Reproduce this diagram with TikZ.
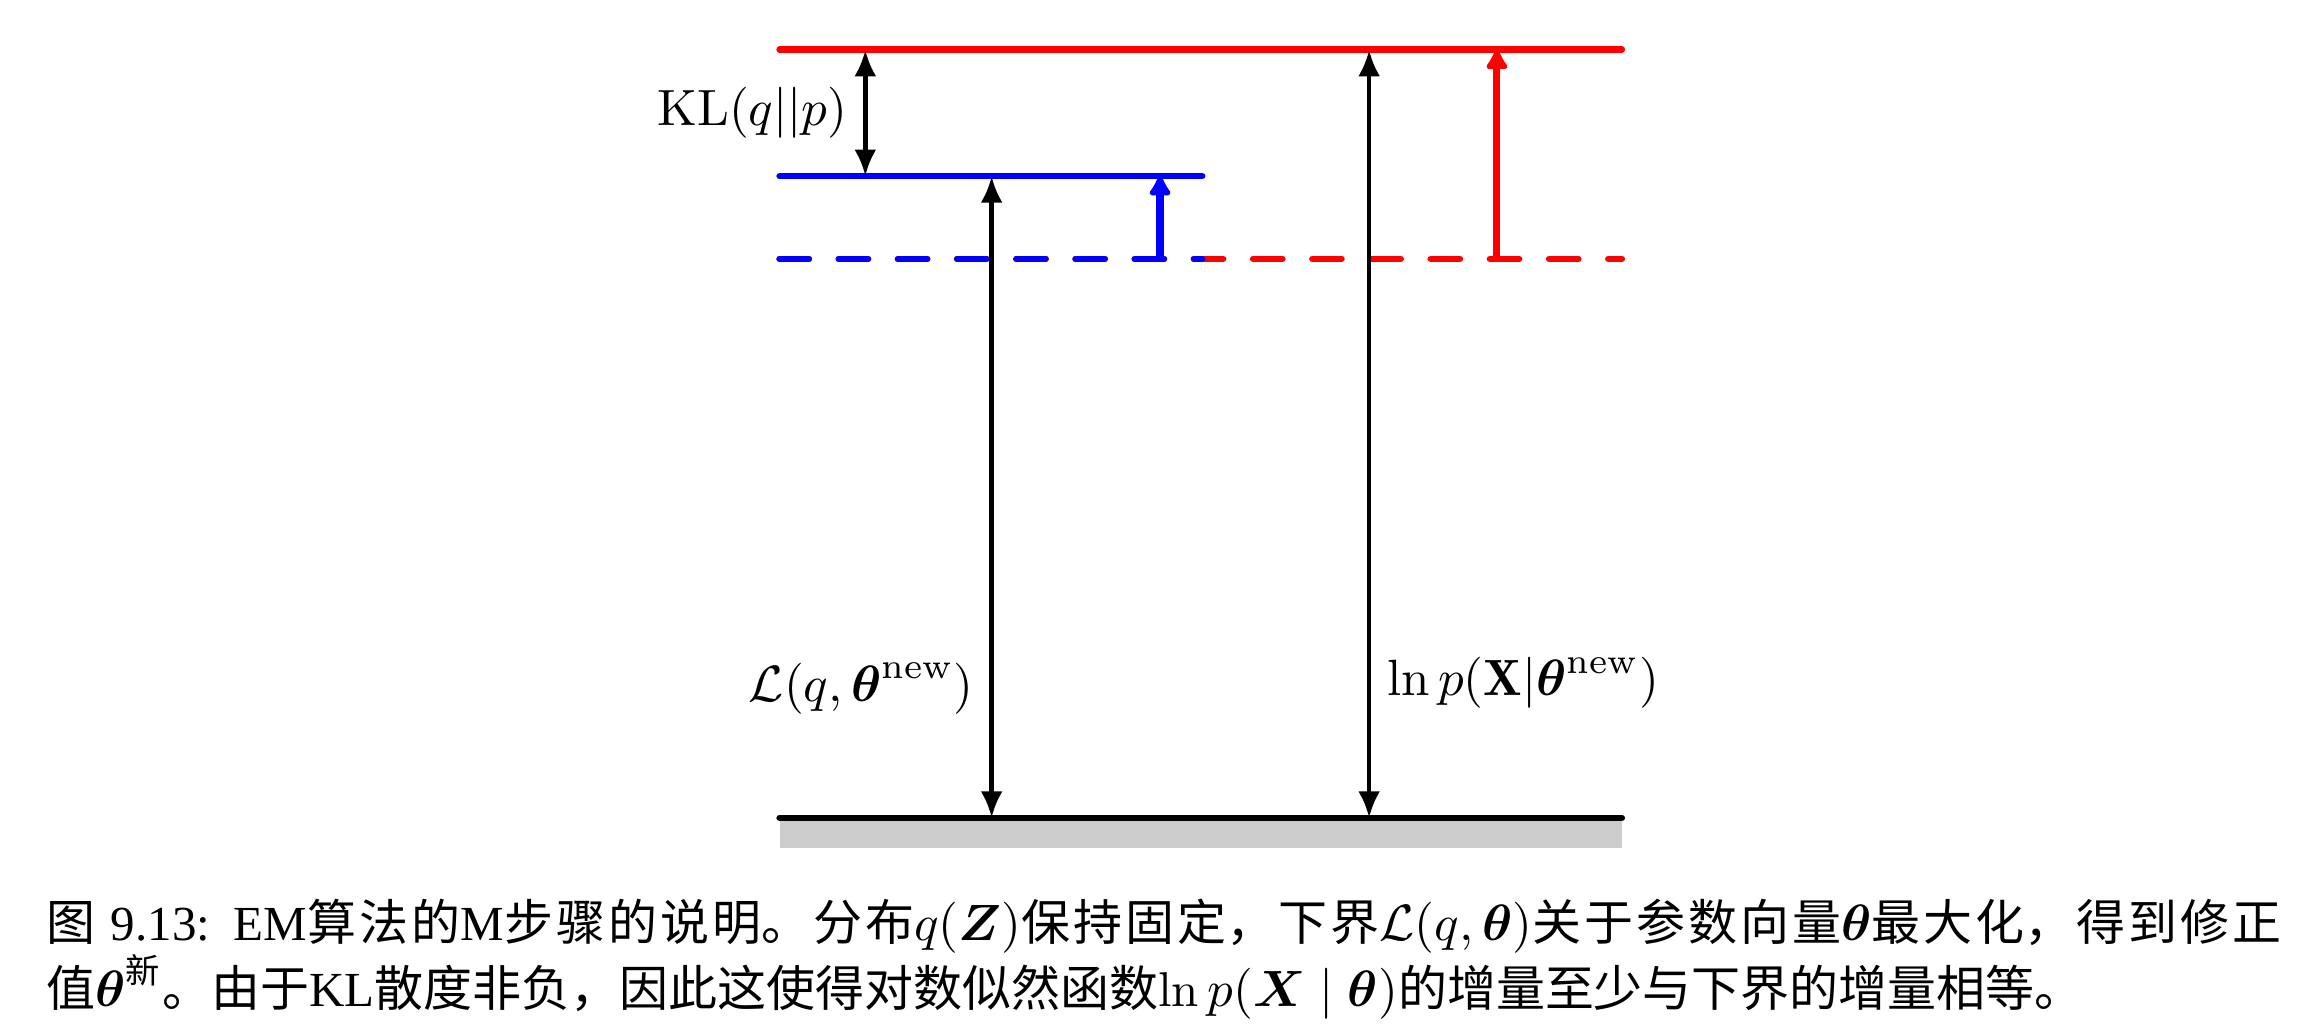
\documentclass[tikz,border=0pt]{standalone}
\usepackage{amsmath,amssymb}
\usepackage{fontspec}
\newfontfamily\zhfont{Noto Sans CJK SC}
\newfontfamily\capfont{Liberation Serif}
\usetikzlibrary{arrows.meta,positioning}
\XeTeXlinebreaklocale "zh"
\XeTeXlinebreakskip=0pt plus 1pt
\newcommand{\zh}[1]{{\zhfont #1}}
\definecolor{lvlred}{RGB}{255,0,0}
\definecolor{lvlblue}{RGB}{0,0,255}
\definecolor{floorgray}{RGB}{204,204,204}
\tikzset{
  lvl/.style={line width=1.3pt,line cap=round},
  dlvl/.style={lvl,dash pattern=on 5.7pt off 5.9pt},
  darr/.style={{Latex[length=5.2pt,width=4.3pt]}-{Latex[length=5.2pt,width=4.3pt]},line width=0.9pt},
  uarr/.style={-{Latex[length=4.6pt,width=5.2pt,round]},line width=1.4pt},
  lbl/.style={font=\normalsize,inner sep=3.3pt},
  capt/.style={text width=15.4cm,align=justify,inner sep=0pt,font=\capfont\fontsize{9.6}{13}\selectfont},
}

\begin{document}
\begin{tikzpicture}
% M step: bound raised at fixed q, gap to ln p reopens
\useasboundingbox (0,0) rectangle (16,7.083);
\coordinate (botL) at (5.37,1.45);
\coordinate (botR) at (11.17,1.45);
\coordinate (oldL) at (5.37,5.30);
\coordinate (oldM) at (8.28,5.30);
\coordinate (oldR) at (11.17,5.30);
\coordinate (lbL)  at (5.37,5.87);
\coordinate (lbR)  at (8.28,5.87);
\coordinate (lpL)  at (5.37,6.74);
\coordinate (lpR)  at (11.17,6.74);
\fill[floorgray] (botL) rectangle (11.17,1.24);
\draw[dlvl,lvlred]  (oldL) -- (oldR);
\draw[dlvl,lvlblue] (oldL) -- (oldM);
\draw[lvl,lvlblue]  (lbL) -- (lbR);
\draw[lvl,lvlred]   (lpL) -- (lpR);
\draw[lvl,black]    (botL) -- (botR);
% arrows
\coordinate (klT) at (5.96,6.74);  \coordinate (klB) at (5.96,5.87);
\coordinate (bdT) at (6.83,5.87);  \coordinate (bdB) at (6.83,1.45);
\coordinate (buB) at (7.99,5.30);  \coordinate (buT) at (7.99,5.87);
\coordinate (lnT) at (9.43,6.74);  \coordinate (lnB) at (9.43,1.45);
\coordinate (ruB) at (10.31,5.30); \coordinate (ruT) at (10.31,6.74);
\draw[darr] (klT) -- (klB);
\draw[darr] (bdT) -- (bdB);
\draw[darr] (lnT) -- (lnB);
\draw[uarr,lvlblue] (buB) -- (buT);
\draw[uarr,lvlred]  (ruB) -- (ruT);
\node[lbl,anchor=east] (kl)  at (5.96,6.305) {$\mathrm{KL}(q||p)$};
\node[lbl,anchor=east] (bnd) at (6.83,2.34) {$\mathcal{L}(q,\boldsymbol{\theta}^{\mathrm{new}})$};
\node[lbl,anchor=west] (lnp) at (9.43,2.38) {$\ln p(\mathbf{X}|\boldsymbol{\theta}^{\mathrm{new}})$};
\node[capt,anchor=north west] (cap) at (0.31,0.90) {\zh{图} 9.13: EM\zh{算法的}M\zh{步骤的说明。分布}$q(\boldsymbol{Z})$\zh{保持固定，下界}$\mathcal{L}(q,\boldsymbol{\theta})$\zh{关于参数向量}$\boldsymbol{\theta}$\zh{最大化，得到修正}\linebreak\zh{值}$\boldsymbol{\theta}^{\text{\zh{新}}}$\zh{。由于}KL\zh{散度非负，因此这使得对数似然函数}$\ln p(\boldsymbol{X}\mid\boldsymbol{\theta})$\zh{的增量至少与下界的增量相等。}};
\end{tikzpicture}
\end{document}
